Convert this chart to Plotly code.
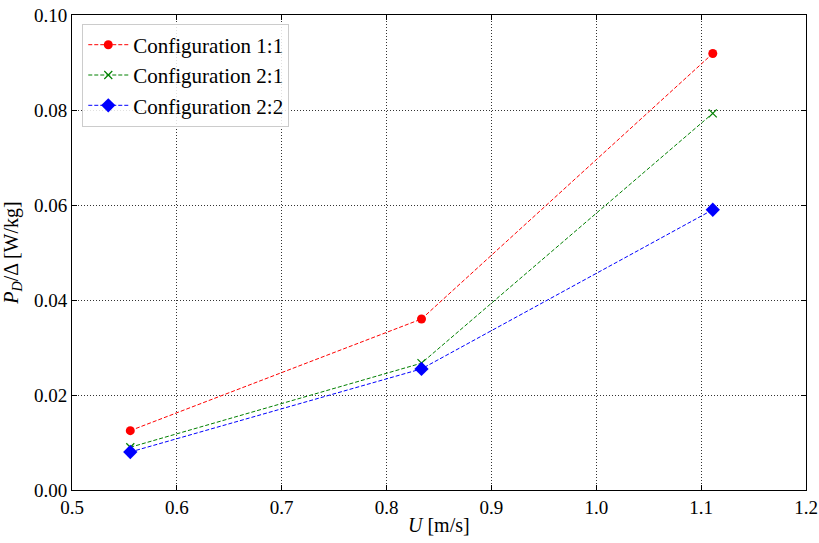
import plotly.graph_objects as go

speeds = [0.5556, 0.8333, 1.1111]
config_11 = [0.0125, 0.0360, 0.0919]
config_21 = [0.0090, 0.0267, 0.0793]
config_22 = [0.0080, 0.0255, 0.0590]
names = ["Configuration 1:1", "Configuration 2:1", "Configuration 2:2"]

FONT = "Liberation Serif"
DASH = "4px,2px"

fig = go.Figure()
fig.add_trace(go.Scatter(x=speeds, y=config_11, name=names[0], mode="lines+markers",
                         line=dict(color="red", width=1, dash=DASH),
                         marker=dict(symbol="circle", size=9, color="red")))
fig.add_trace(go.Scatter(x=speeds, y=config_21, name=names[1], mode="lines+markers",
                         line=dict(color="green", width=1, dash=DASH),
                         marker=dict(symbol="x-thin", size=8, color="green",
                                     line=dict(color="green", width=1.2))))
fig.add_trace(go.Scatter(x=speeds, y=config_22, name=names[2], mode="lines+markers",
                         line=dict(color="blue", width=1, dash=DASH),
                         marker=dict(symbol="diamond", size=11, color="blue")))

axis_common = dict(showline=True, linecolor="black", linewidth=1, mirror="allticks",
                   ticks="inside", ticklen=5, tickcolor="black", automargin=False,
                   ticklabeloverflow="allow",
                   showgrid=True, gridcolor="#333333", griddash="1px,2px", gridwidth=1,
                   zeroline=False, tickfont=dict(family=FONT, size=19, color="black"))

fig.update_xaxes(range=[0.5, 1.2], tickvals=[0.5, 0.6, 0.7, 0.8, 0.9, 1.0, 1.1, 1.2],
                 ticktext=["0.5", "0.6", "0.7", "0.8", "0.9", "1.0", "1.1", "1.2"],
                 **axis_common)
fig.update_yaxes(range=[0, 0.10], tickvals=[0, 0.02, 0.04, 0.06, 0.08, 0.10],
                 ticktext=["0.00", "0.02", "0.04", "0.06", "0.08", "0.10"],
                 title=dict(text="<i>P<sub>D</sub></i>/Δ [W/kg]",
                            font=dict(family=FONT, size=20, color="black")),
                 **axis_common)

fig.add_annotation(text="<i>U</i> [m/s]", xref="paper", yref="paper", x=0.5, y=-0.074,
                   xanchor="center", yanchor="middle", showarrow=False,
                   font=dict(family=FONT, size=20, color="black"))

fig.update_layout(
    width=819, height=543,
    margin=dict(l=72, r=13, t=15, b=53),
    plot_bgcolor="white", paper_bgcolor="white",
    font=dict(family=FONT, color="black"),
    legend=dict(x=0.014, y=0.982, xanchor="left", yanchor="top",
                bgcolor="rgba(255,255,255,0.85)", bordercolor="#cccccc", borderwidth=1,
                font=dict(family=FONT, size=21, color="black"), itemwidth=40),
)

# remove the default 8px page margin so the figure fills the window exactly
fig.write_html("out.html", config={"displayModeBar": False},
               post_script="document.body.style.margin='0px';")
